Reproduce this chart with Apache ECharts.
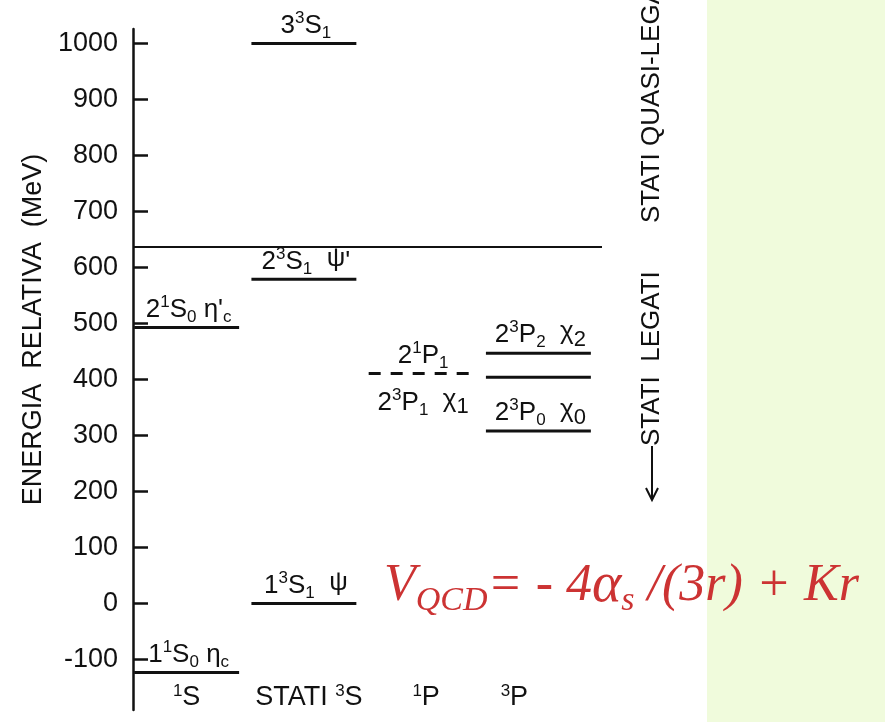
<!DOCTYPE html>
<html><head><meta charset="utf-8">
<script src="https://cdn.jsdelivr.net/npm/echarts@6/dist/echarts.min.js"></script>
<style>html,body{margin:0;padding:0;background:#fff}#c{width:885px;height:722px}</style>
</head><body><div id="c"></div>
<script>
// ---- data ----
const categories = ['1S', 'STATI 3S', '1P', '3P'];
const categoryLabels = ['{sp|1}S{g1| }', 'STATI {sp|3}S', '{sp|1}P', '{sp|3}P{g4| }'];
const yTicks = [-100, 0, 100, 200, 300, 400, 500, 600, 700, 800, 900, 1000];
const yMin = -190, yMax = 1026;
const levelCat   = [0, 0, 1, 1, 1, 2, 3, 3, 3, 2];
const levelValue = [-123, 493, 0, 579, 1000, 411, 447, 404, 308, 411];
const levelLabel = [
  '1{sp|1}S{sb|0} η{sb|c}',
  '2{sp|1}S{sb|0} η\'{sb|c}',
  '1{sp|3}S{sb|1}  {gr|ψ}',
  '2{sp|3}S{sb|1}  {gr|ψ}\'',
  '3{sp|3}S{sb|1}',
  '2{sp|1}P{sb|1}',
  '2{sp|3}P{sb|2}  {gr|χ}{sm|2}',
  '',
  '2{sp|3}P{sb|0}  {gr|χ}{sm|0}',
  '2{sp|3}P{sb|1}  {gr|χ}{sm|1}'
];
const levelStyle = ['solid','solid','solid','solid','solid','dashed','solid','solid','solid','none'];
const labelSide  = ['top','top','top','top','top','top','top','top','top','bottom'];
const thresholdValue = 637;

// ---- chart ----
const FONT = 'Liberation Sans, Arial, sans-serif';
const chart = echarts.init(document.getElementById('c'), null, {renderer: 'canvas'});
const labelRich = {
  sp: {fontSize: 17, lineHeight: 17, verticalAlign: 'top', fill: '#111', fontFamily: FONT},
  sb: {fontSize: 17, lineHeight: 17, verticalAlign: 'bottom', fill: '#111', fontFamily: FONT},
  sm: {fontSize: 22, lineHeight: 29, verticalAlign: 'bottom', fill: '#111', fontFamily: FONT},
  gr: {fontSize: 26, lineHeight: 22, verticalAlign: 'top', fill: '#111', fontFamily: FONT}
};
const data = levelCat.map((c, i) => [c, levelValue[i], i]);

chart.setOption({
  backgroundColor: '#ffffff',
  animation: false,
  grid: {left: 133, right: 283, top: 29, bottom: 12},
  xAxis: {
    type: 'category', data: categories, boundaryGap: true,
    axisLine: {show: false}, axisTick: {show: false}, splitLine: {show: false},
    axisLabel: {
      inside: true, margin: -3, interval: 0,
      color: '#111', fontSize: 27, lineHeight: 30, fontFamily: FONT,
      formatter: (v, idx) => categoryLabels[idx],
      rich: {
        sp: {fontSize: 17, lineHeight: 17, verticalAlign: 'top', color: '#111', fontFamily: FONT},
        g1: {width: 10, fontSize: 10},
        g4: {width: 58, fontSize: 10}
      }
    }
  },
  yAxis: {
    type: 'value', min: yMin, max: yMax,
    name: 'ENERGIA  RELATIVA  (MeV)', nameLocation: 'middle', nameGap: 80,
    nameTextStyle: {fontSize: 27, color: '#111', fontFamily: FONT, padding: [0, 0, 0, 80]},
    axisLine: {show: true, lineStyle: {color: '#111', width: 2.5}},
    axisTick: {show: true, inside: true, length: 15, customValues: yTicks, lineStyle: {color: '#111', width: 2.5}},
    axisLabel: {show: true, margin: 15, customValues: yTicks, fontSize: 27, color: '#111', fontFamily: FONT,
                formatter: v => String(v)},
    splitLine: {show: false}
  },
  series: [{
    type: 'custom',
    data: data,
    encode: {x: 0, y: 1},
    renderItem: (params, api) => {
      const i = api.value(2);
      const c = api.coord([api.value(0), api.value(1)]);
      const bw = api.size([1, 0])[0];
      const x0 = c[0] - bw / 2 + bw * 0.01;
      const x1 = c[0] - bw / 2 + bw * 0.905;
      const xm = (x0 + x1) / 2;
      const children = [];
      if (levelStyle[i] !== 'none') {
        children.push({
          type: 'line',
          shape: {x1: x0, y1: c[1], x2: x1, y2: c[1]},
          style: {stroke: '#111', lineWidth: 3, lineDash: levelStyle[i] === 'dashed' ? [12, 10] : null}
        });
      }
      if (levelLabel[i]) {
        const top = labelSide[i] === 'top';
        children.push({
          type: 'text',
          x: xm + 2, y: top ? c[1] - 2 : c[1] + 13,
          style: {
            text: levelLabel[i], fill: '#111',
            font: '26px ' + FONT, lineHeight: 32,
            align: 'center', verticalAlign: top ? 'bottom' : 'top',
            rich: labelRich
          }
        });
      }
      return {type: 'group', children};
    },
    markLine: {
      silent: true, symbol: ['none', 'none'], label: {show: false},
      lineStyle: {color: '#111', width: 2, type: 'solid'},
      data: [{yAxis: thresholdValue}]
    }
  }],
  graphic: [
    {type: 'rect', shape: {x: 707, y: 0, width: 178, height: 722}, style: {fill: '#f0fbdc'}, z: 0},
    {type: 'text', x: 652, y: 223, rotation: Math.PI / 2,
     style: {text: 'STATI QUASI-LEGATI', fill: '#111', font: '26px ' + FONT, align: 'left', verticalAlign: 'middle'}, z: 10},
    {type: 'text', x: 652, y: 446, rotation: Math.PI / 2,
     style: {text: 'STATI  LEGATI', fill: '#111', font: '26px ' + FONT, align: 'left', verticalAlign: 'middle'}, z: 10},
    {type: 'line', shape: {x1: 652, y1: 446, x2: 652, y2: 499}, style: {stroke: '#111', lineWidth: 2}, z: 10},
    {type: 'polyline', shape: {points: [[646, 488], [652, 500], [658, 488]]}, style: {stroke: '#111', lineWidth: 2, fill: null}, z: 10},
    {type: 'text', x: 384, y: 586, z: 20,
     style: {
       text: 'V{sub|QCD}= - 4{a|α}{sub|s} /(3r) + Kr',
       fill: '#cc3333', font: 'italic 52px Liberation Serif, Times New Roman, serif', lineHeight: 64,
       align: 'left', verticalAlign: 'middle',
       rich: {
         sub: {fontSize: 34, lineHeight: 30, verticalAlign: 'bottom', fill: '#cc3333', fontStyle: 'italic', fontFamily: 'Liberation Serif'},
         a: {fontSize: 56, fill: '#cc3333', fontStyle: 'italic', fontFamily: 'Liberation Serif'}
       }
     }}
  ]
});
</script>
</body></html>
